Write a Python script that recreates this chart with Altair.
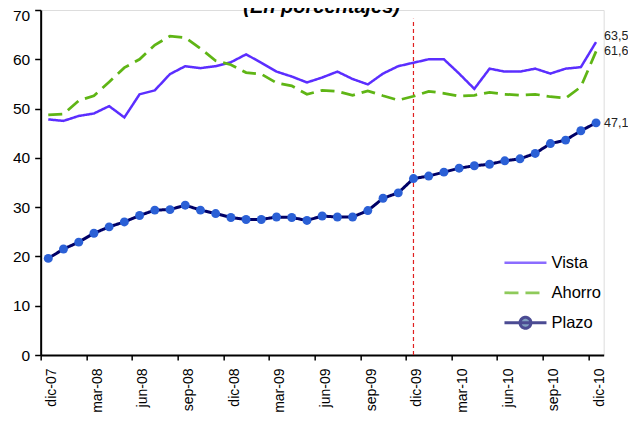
import json
import altair as alt
import pandas as pd

# ---------------- data ----------------
meses = ["dic-07", "ene-08", "feb-08", "mar-08", "abr-08", "may-08", "jun-08", "jul-08",
         "ago-08", "sep-08", "oct-08", "nov-08", "dic-08", "ene-09", "feb-09", "mar-09",
         "abr-09", "may-09", "jun-09", "jul-09", "ago-09", "sep-09", "oct-09", "nov-09",
         "dic-09", "ene-10", "feb-10", "mar-10", "abr-10", "may-10", "jun-10", "jul-10",
         "ago-10", "sep-10", "oct-10", "nov-10", "dic-10"]

vista = [47.8, 47.5, 48.5, 49.0, 50.5, 48.2, 52.9, 53.7, 57.0, 58.6, 58.2, 58.6,
         59.4, 61.0, 59.3, 57.5, 56.5, 55.3, 56.3, 57.5, 56.0, 54.9, 57.1, 58.6,
         59.3, 60.0, 60.0, 57.1, 54.0, 58.1, 57.5, 57.5, 58.1, 57.1, 58.1, 58.4, 63.5]

ahorro = [48.7, 48.9, 51.6, 52.6, 55.4, 58.3, 60.0, 62.9, 64.7, 64.4, 62.2, 59.7,
          58.9, 57.3, 57.0, 55.2, 54.6, 52.9, 53.7, 53.5, 52.7, 53.6, 52.6, 51.7,
          52.5, 53.5, 53.1, 52.5, 52.7, 53.3, 52.9, 52.7, 52.9, 52.4, 52.1, 54.4, 61.6]

plazo = [19.6, 21.5, 22.9, 24.7, 26.0, 27.0, 28.3, 29.4, 29.5, 30.4, 29.4, 28.7,
         27.9, 27.5, 27.5, 28.0, 27.9, 27.3, 28.2, 28.0, 28.0, 29.3, 31.8, 32.9,
         35.8, 36.3, 37.1, 37.9, 38.4, 38.7, 39.4, 39.8, 40.9, 42.9, 43.6, 45.5, 47.1]

series = ["Vista", "Ahorro", "Plazo"]
corte_mes = "dic-09"
corte_tope = 68.2
titulo = "(En porcentajes)"

# ---------------- styles ----------------
colores = ["#5B2EFF", "#5FB515", "#000066"]
dashes = [[1, 0], [14, 7], [1, 0]]
anchos = [2.5, 3, 2]
formas = ["M-2,0H2", "M-2,0H2",
          "M-2,0H2M-0.52,0A0.52,0.52,0,1,1,0.52,0A0.52,0.52,0,1,1,-0.52,0Z"]
marcador = "#2B60D6"
FONT = "Liberation Sans"

rows = []
for s, vals in zip(series, [vista, ahorro, plazo]):
    for i, (m, v) in enumerate(zip(meses, vals)):
        rows.append({"idx": i, "mes": m, "serie": s, "valor": v})
df = pd.DataFrame(rows)
df["etiqueta"] = df["valor"].map(lambda v: f"{v:.1f}".replace(".", ","))

n = len(meses)
W, H = 563, 345

tick_vals = [k - 0.5 for k in range(0, n, 3)]
label_expr = json.dumps(meses) + "[round(datum.value + 0.5)]"

x_enc = alt.X("idx:Q",
              scale=alt.Scale(domain=[-0.5, n - 0.5], nice=False, zero=False),
              axis=alt.Axis(values=tick_vals, labelExpr=label_expr, labelAngle=270,
                            labelOffset=11, labelPadding=8, tickSize=5, tickWidth=1.5,
                            tickColor="black", domainColor="black", domainWidth=2,
                            labelFontSize=14, labelColor="black", labelFont=FONT,
                            labelOverlap=False, labelBound=False, labelFlush=False,
                            grid=False, title=None))
y_enc = alt.Y("valor:Q",
              scale=alt.Scale(domain=[0, 70], nice=False, zero=True),
              axis=alt.Axis(values=list(range(0, 71, 10)), tickSize=6, tickWidth=1.5,
                            tickColor="black", domainColor="black", domainWidth=2,
                            labelPadding=5, labelFontSize=15.5, labelColor="black",
                            labelOffset={"condition": {"test": "datum.value == 70", "value": 5.5},
                                         "value": 0},
                            labelFont=FONT, grid=False, title=None))

leyenda = alt.Legend(title=None, orient="none", legendX=472.8, legendY=240.8,
                     symbolSize=441, symbolStrokeWidth=2.5, symbolFillColor=marcador,
                     labelFontSize=16.5, labelFont=FONT, labelColor="black",
                     labelOffset=14, rowPadding=9, padding=0)

base = alt.Chart(df)

lineas = base.mark_line().encode(
    x=x_enc, y=y_enc,
    color=alt.Color("serie:N", scale=alt.Scale(domain=series, range=colores), legend=leyenda),
    strokeDash=alt.StrokeDash("serie:N", scale=alt.Scale(domain=series, range=dashes), legend=leyenda),
    strokeWidth=alt.StrokeWidth("serie:N", scale=alt.Scale(domain=series, range=anchos), legend=None),
    order=alt.Order("idx:Q"),
)

formas_leyenda = base.transform_filter("false").mark_point(filled=True).encode(
    x=x_enc, y=y_enc,
    shape=alt.Shape("serie:N", scale=alt.Scale(domain=series, range=formas), legend=leyenda),
)

puntos = base.transform_filter(alt.datum.serie == "Plazo").mark_circle(
    size=80, color=marcador, opacity=1).encode(x=x_enc, y=y_enc)

corte = pd.DataFrame({"idx": [meses.index(corte_mes)], "desde": [0], "hasta": [corte_tope]})
regla = alt.Chart(corte).mark_rule(color="#E02020", strokeDash=[4, 3], strokeWidth=1.2).encode(
    x=alt.X("idx:Q"), y=alt.Y("desde:Q"), y2="hasta:Q")

finales = []
for s, dy in zip(series, [-6, 0, 0]):
    finales.append(
        base.transform_filter((alt.datum.serie == s) & (alt.datum.idx == n - 1))
        .mark_text(align="left", baseline="middle", dx=8, dy=dy, fontSize=12.5,
                   font=FONT, color="#222222")
        .encode(x=alt.X("idx:Q"), y=alt.Y("valor:Q"), text="etiqueta:N")
    )

tit = alt.Chart(pd.DataFrame({"t": [titulo]})).mark_text(
    fontSize=20, fontWeight="bold", fontStyle="italic", font=FONT,
    baseline="alphabetic", align="center", color="black").encode(
    text="t:N", x=alt.value(281), y=alt.value(3))

chart = alt.layer(regla, lineas, formas_leyenda, puntos, *finales, tit).properties(
    width=W, height=H,
    autosize=alt.AutoSizeParams(type="none"),
    padding={"left": 32.67, "top": 2, "right": 620 - 32.67 - W, "bottom": 405 - 2 - H},
).configure_view(stroke=None).configure(font=FONT)

chart.save("out.html", embed_options={"renderer": "svg", "actions": False})
